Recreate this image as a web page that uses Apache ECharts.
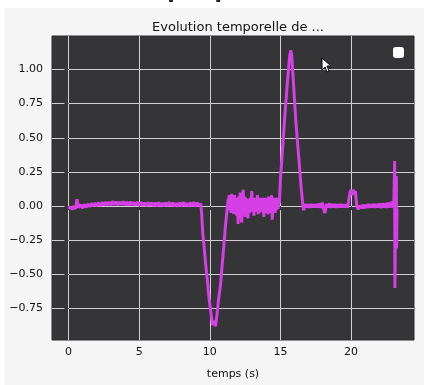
<!DOCTYPE html>
<html>
<head>
<meta charset="utf-8">
<script src="https://cdn.jsdelivr.net/npm/echarts@6/dist/echarts.min.js"></script>
<style>
  html, body { margin: 0; padding: 0; background: #fff; }
  #chart { width: 424px; height: 385px; }
</style>
</head>
<body>
<div id="chart"></div>
<script>
// ticks
const xTicks = [0, 5, 10, 15, 20]
const yTicks = [-0.75, -0.5, -0.25, 0, 0.25, 0.5, 0.75, 1.0]

// signal, [temps, valeur], par segments
const baseline = [
  [0, -0.02], [0.12, -0.005], [0.25, -0.025], [0.37, 0.0], [0.5, -0.02], [0.6, 0.05], [0.7, -0.01],
  [0.85, 0.01], [1.0, -0.015], [1.12, 0.012], [1.25, -0.008], [1.37, 0.015], [1.5, -0.005],
  [1.62, 0.02], [1.75, 0.0], [1.87, 0.022], [2.0, 0.0], [2.12, 0.025], [2.25, 0.002], [2.37, 0.028],
  [2.5, 0.005], [2.62, 0.03], [2.75, 0.008], [2.87, 0.03], [3.0, 0.008], [3.12, 0.035], [3.25, 0.01],
  [3.37, 0.032], [3.5, 0.008], [3.62, 0.03], [3.75, 0.01], [3.87, 0.035], [4.0, 0.008], [4.12, 0.03],
  [4.25, 0.005], [4.37, 0.032], [4.5, 0.008], [4.62, 0.028], [4.75, 0.005], [4.87, 0.03], [5.0, 0.005],
  [5.12, 0.028], [5.25, 0.003], [5.37, 0.025], [5.5, 0.0], [5.62, 0.028], [5.75, 0.002], [5.87, 0.025],
  [6.0, 0.0], [6.12, 0.025], [6.25, -0.002], [6.37, 0.028], [6.5, 0.0], [6.62, 0.022], [6.75, -0.002],
  [6.87, 0.025], [7.0, 0.0], [7.12, 0.03], [7.25, 0.0], [7.37, 0.025], [7.5, -0.002], [7.62, 0.022],
  [7.75, -0.003], [7.87, 0.025], [8.0, -0.002], [8.12, 0.03], [8.25, 0.0], [8.37, 0.022], [8.5, -0.003],
  [8.62, 0.025], [8.75, 0.0], [8.87, 0.03], [9.0, -0.002], [9.12, 0.025], [9.25, 0.0], [9.35, 0.02]
]
const dip = [
  [9.42, -0.05], [9.5, -0.2], [9.6, -0.3], [9.7, -0.42], [9.8, -0.52], [9.95, -0.68], [10.1, -0.8],
  [10.2, -0.87], [10.3, -0.84], [10.4, -0.88], [10.5, -0.8], [10.6, -0.7], [10.75, -0.58],
  [10.9, -0.4], [11.0, -0.28], [11.1, -0.15], [11.2, -0.05], [11.3, 0.05]
]
const plateau = [
  [11.33, 0.02], [11.37, 0.08], [11.41, -0.03], [11.45, 0.06], [11.5, -0.05], [11.55, 0.09],
  [11.6, -0.02], [11.65, 0.07], [11.7, -0.06], [11.75, 0.08], [11.8, -0.04], [11.85, 0.05],
  [11.9, -0.07], [11.95, 0.06], [12.0, -0.13], [12.05, 0.07], [12.1, -0.03], [12.15, 0.1],
  [12.2, -0.06], [12.26, -0.12], [12.31, 0.05], [12.36, 0.12], [12.41, -0.05], [12.45, 0.07],
  [12.5, -0.08], [12.55, 0.06], [12.6, -0.03], [12.65, 0.05], [12.7, -0.09], [12.75, 0.04],
  [12.8, -0.05], [12.85, 0.06], [12.9, -0.04], [12.97, 0.11], [13.02, -0.03], [13.07, 0.06],
  [13.12, -0.07], [13.17, 0.05], [13.22, -0.04], [13.27, 0.06], [13.32, -0.03], [13.37, 0.08],
  [13.42, -0.06], [13.47, 0.05], [13.52, -0.05], [13.57, 0.06], [13.62, -0.04], [13.67, 0.05],
  [13.72, -0.03], [13.77, 0.06], [13.82, -0.08], [13.87, 0.05], [13.92, -0.04], [13.97, 0.06],
  [14.02, -0.05], [14.07, 0.04], [14.12, -0.06], [14.17, 0.07], [14.22, -0.03], [14.27, 0.05],
  [14.32, -0.05], [14.37, 0.08], [14.42, -0.1], [14.47, 0.05], [14.52, -0.04], [14.57, 0.06],
  [14.62, -0.05], [14.67, 0.05], [14.72, -0.03], [14.77, 0.06], [14.82, -0.02], [14.88, 0.04], [14.92, 0.02]
]
const peak = [
  [15.0, 0.2], [15.1, 0.35], [15.3, 0.65], [15.5, 0.92], [15.65, 1.1], [15.73, 1.14],
  [15.8, 1.1], [15.95, 0.85], [16.1, 0.6], [16.3, 0.35], [16.45, 0.15], [16.6, -0.01], [16.65, -0.03]
]
const tail = [
  [16.75, 0.015], [16.85, -0.01], [16.95, 0.012], [17.05, -0.012], [17.15, 0.015], [17.25, -0.008],
  [17.35, 0.012], [17.45, -0.01], [17.55, 0.015], [17.65, -0.01], [17.75, 0.02], [17.85, -0.012],
  [17.95, 0.025], [18.05, -0.02], [18.15, -0.05], [18.25, 0.015], [18.35, -0.01], [18.45, 0.02],
  [18.55, -0.012], [18.65, 0.015], [18.75, -0.01], [18.85, 0.015], [18.95, -0.012], [19.05, 0.012],
  [19.15, -0.008], [19.25, 0.015], [19.35, -0.01], [19.45, 0.012], [19.55, -0.008], [19.65, 0.01],
  [19.75, -0.01], [19.85, 0.0], [19.92, 0.1], [20.0, 0.12], [20.07, 0.08], [20.15, 0.12],
  [20.22, 0.09], [20.3, 0.11], [20.4, 0.0], [20.5, -0.025], [20.6, 0.005], [20.7, -0.015],
  [20.8, 0.01], [20.9, -0.018], [21.0, 0.01], [21.1, -0.012], [21.2, 0.015], [21.3, -0.012],
  [21.4, 0.012], [21.5, -0.01], [21.6, 0.015], [21.7, -0.012], [21.8, 0.015], [21.9, -0.01],
  [22.0, 0.018], [22.1, -0.015], [22.2, 0.02], [22.3, -0.01], [22.4, 0.022], [22.5, -0.012],
  [22.6, 0.025], [22.7, -0.01], [22.8, 0.03], [22.88, -0.01], [22.95, 0.035], [23.02, -0.01],
  [23.08, 0.33], [23.1, -0.6], [23.15, 0.1], [23.2, 0.22], [23.22, -0.31], [23.25, -0.02]
]

const signal = [...baseline, ...dip, ...plateau, ...peak, ...tail]

const fmt = v => v.toFixed(2).replace('-', '\u2212')

const chart = echarts.init(document.getElementById('chart'), null, { renderer: 'canvas' })

chart.setOption({
  animation: false,
  backgroundColor: '#fff',
  textStyle: { fontFamily: 'DejaVu Sans' },
  graphic: [
    { type: 'rect', z: -10, shape: { x: 5, y: 8, width: 419, height: 377 }, style: { fill: '#f5f5f5' } },
    {
      type: 'text', x: 188, y: 3,
      style: { text: 'Graphique', fontSize: 22, fontWeight: 'bold', fill: '#222', align: 'center', verticalAlign: 'bottom', fontFamily: 'DejaVu Sans' }
    },
    {
      type: 'polygon', z: 100,
      shape: { points: [[322, 58], [322, 70], [325, 67], [327, 72], [329, 71], [327, 66], [331, 66]] },
      style: { fill: '#fff', stroke: '#000', lineWidth: 1 }
    }
  ],
  title: {
    text: 'Evolution temporelle de ...',
    left: 233, top: 16, textAlign: 'center',
    textStyle: { fontSize: 13, fontWeight: 'normal', color: '#111', fontFamily: 'DejaVu Sans' }
  },
  legend: {
    right: 15, top: 42,
    icon: 'roundRect', itemWidth: 11, itemHeight: 11,
    itemStyle: { color: '#fff' },
    formatter: () => '',
    data: ['signal']
  },
  grid: {
    left: 52, right: 10, top: 36, bottom: 41,
    show: true, backgroundColor: '#353538', borderColor: '#2a2a2a', borderWidth: 1
  },
  xAxis: {
    type: 'value', min: -1.17, max: 24.45,
    name: 'temps (s)', nameLocation: 'middle', nameGap: 29,
    nameTextStyle: { fontSize: 11, color: '#111' },
    axisLine: { show: false },
    axisTick: { show: true, length: 4, lineStyle: { color: '#333' }, customValues: xTicks },
    axisLabel: { fontSize: 11, color: '#111', margin: 7, customValues: xTicks, formatter: v => String(v) },
    splitLine: { show: true, lineStyle: { color: '#d0d0d0', width: 1 } }
  },
  yAxis: {
    type: 'value', min: -0.98, max: 1.245,
    axisLine: { show: false },
    axisTick: { show: true, length: 4, lineStyle: { color: '#333' }, customValues: yTicks },
    axisLabel: { fontSize: 11, color: '#111', margin: 9, customValues: yTicks, formatter: fmt },
    splitLine: { show: true, lineStyle: { color: '#d0d0d0', width: 1 } }
  },
  series: [{
    name: 'signal',
    type: 'line',
    data: signal,
    showSymbol: false,
    symbol: 'none',
    lineStyle: { color: '#d63fe6', width: 3 },
    itemStyle: { color: '#d63fe6' }
  }]
})
</script>
</body>
</html>
